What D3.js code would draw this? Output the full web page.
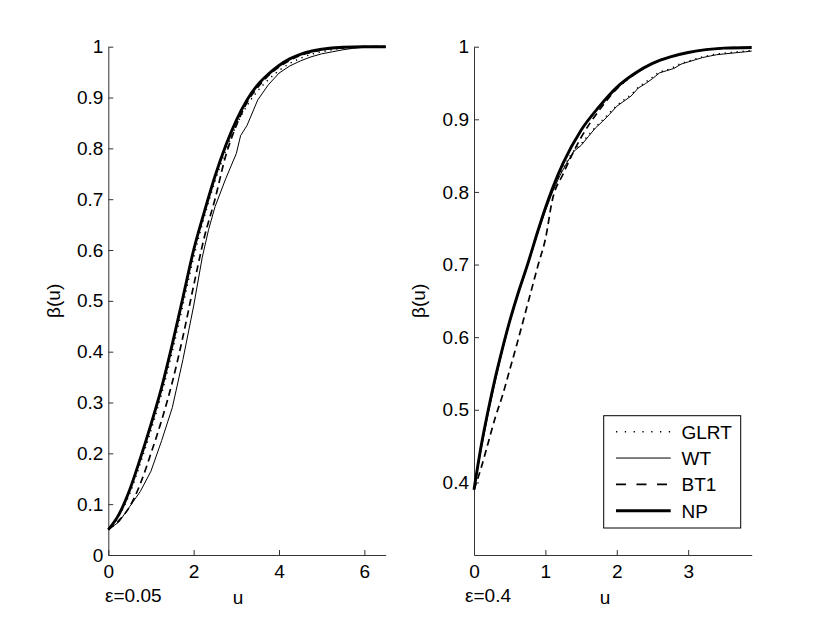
<!DOCTYPE html>
<html>
<head>
<meta charset="utf-8">
<script src="https://cdn.jsdelivr.net/npm/d3@7/dist/d3.min.js"></script>
<style>
  html, body { margin: 0; padding: 0; background: #fff; }
  svg { display: block; font-family: "Liberation Sans", Arial, Helvetica, sans-serif; }
</style>
</head>
<body>
<svg id="chart" width="830" height="625"></svg>
<script>
// ---------- DATA ----------
// Left panel (epsilon = 0.05)
const uL = [0,0.25,0.5,0.75,1,1.25,1.5,1.75,2,2.25,2.5,2.75,3,3.25,3.5,3.75,4,4.25,4.5,4.75,5,5.5,6,6.5];
const npL   = [0.05,0.08,0.128,0.19,0.257,0.33,0.415,0.507,0.60,0.675,0.745,0.805,0.855,0.895,0.925,0.946,0.963,0.976,0.985,0.991,0.995,0.999,1.0,1.0];
const glrtL = [0.05,0.077,0.12,0.18,0.245,0.317,0.40,0.492,0.585,0.665,0.735,0.795,0.845,0.884,0.913,0.935,0.953,0.967,0.977,0.985,0.990,0.997,0.999,1.0];
const bt1L  = [0.05,0.068,0.095,0.14,0.20,0.265,0.34,0.43,0.53,0.625,0.70,0.785,0.845,0.89,0.92,0.943,0.960,0.973,0.983,0.989,0.994,0.998,1.0,1.0];
const uLwt  = [0,0.25,0.5,0.75,1,1.25,1.5,1.75,2,2.2,2.35,2.5,2.75,3,3.1,3.25,3.5,3.75,4,4.25,4.5,4.75,5,5.25,5.5,5.75,6,6.5];
const wtL   = [0.05,0.065,0.095,0.125,0.165,0.225,0.29,0.385,0.49,0.585,0.64,0.685,0.74,0.79,0.825,0.845,0.895,0.925,0.948,0.962,0.972,0.98,0.986,0.99,0.994,0.997,0.999,1.0];

// Right panel (epsilon = 0.4)
const uR    = [0,0.1,0.2,0.3,0.4,0.5,0.6,0.75,0.9,1.0,1.1,1.25,1.5,1.75,2.0,2.25,2.5,2.75,3.0,3.25,3.5,3.89];
const npR   = [0.39,0.45,0.50,0.545,0.585,0.622,0.655,0.70,0.748,0.778,0.805,0.84,0.885,0.917,0.944,0.963,0.977,0.986,0.992,0.996,0.998,0.999];
const bt1R  = [0.39,0.42,0.455,0.49,0.52,0.555,0.59,0.645,0.70,0.735,0.79,0.825,0.875,0.912,0.942,0.962,0.977,0.986,0.992,0.996,0.998,0.999];
const uRwt  = [0,0.1,0.2,0.3,0.4,0.5,0.6,0.75,0.9,1.0,1.1,1.2,1.3,1.4,1.5,1.6,1.7,1.8,1.9,2.0,2.1,2.2,2.3,2.4,2.5,2.6,2.7,2.8,2.9,3.0,3.1,3.2,3.3,3.4,3.5,3.6,3.7,3.8,3.89];
const wtR   = [0.39,0.445,0.495,0.54,0.582,0.62,0.653,0.698,0.745,0.774,0.80,0.822,0.84,0.856,0.864,0.876,0.888,0.897,0.907,0.918,0.925,0.932,0.943,0.949,0.956,0.964,0.967,0.970,0.976,0.979,0.982,0.985,0.987,0.989,0.990,0.991,0.992,0.993,0.994];
const glrtR = [0.39,0.448,0.498,0.543,0.584,0.621,0.654,0.699,0.746,0.776,0.802,0.824,0.842,0.857,0.866,0.878,0.889,0.899,0.909,0.919,0.927,0.934,0.944,0.951,0.958,0.965,0.968,0.972,0.977,0.980,0.983,0.986,0.988,0.990,0.991,0.992,0.993,0.994,0.995];

// Axis ticks and labels
const xTicksL = [0,2,4,6];
const yTicksL = [0,0.1,0.2,0.3,0.4,0.5,0.6,0.7,0.8,0.9,1];
const xTicksR = [0,1,2,3];
const yTicksR = [0.4,0.5,0.6,0.7,0.8,0.9,1];
const xDomL = [0,6.5], yDomL = [0,1];
const xDomR = [0,3.89], yDomR = [0.3,1];
const panelNotes = ["ε=0.05","ε=0.4"];
const xLabel = "u", yLabel = "β(u)";
const legendNames = ["GLRT","WT","BT1","NP"];

// ---------- STYLES ----------
const styles = {
  GLRT: {w:1.4, dash:"1.3,4.7"},
  WT:   {w:1.0, dash:null},
  BT1:  {w:1.7, dash:"7,4.5"},
  NP:   {w:2.9, dash:null}
};

const svg = d3.select("#chart");
const fontSize = 19;
const axisColor = "#333";

function drawPanel(cfg) {
  const x = d3.scaleLinear().domain(cfg.xDom).range([cfg.x0, cfg.x1]);
  const y = d3.scaleLinear().domain(cfg.yDom).range([cfg.y1, cfg.y0]);
  const g = svg.append("g");

  const ax = g.append("g").attr("transform", `translate(0,${cfg.y1})`)
    .call(d3.axisBottom(x).tickValues(cfg.xTicks).tickFormat(d3.format("d"))
      .tickSizeInner(-5).tickSizeOuter(0).tickPadding(10));
  const ay = g.append("g").attr("transform", `translate(${cfg.x0},0)`)
    .call(d3.axisLeft(y).tickValues(cfg.yTicks).tickFormat(d => d === 0 || d === 1 ? String(d) : d3.format(".1f")(d))
      .tickSizeInner(-5).tickSizeOuter(0).tickPadding(5));
  [ax, ay].forEach(a => {
    a.select(".domain").attr("stroke", axisColor).attr("stroke-width", 1);
    a.selectAll(".tick line").attr("stroke", axisColor);
    a.selectAll("text").attr("fill", "#000").style("font-size", fontSize + "px")
      .style("font-family", '"Liberation Sans", Arial, sans-serif');
  });

  // curves
  const order = ["WT","GLRT","BT1","NP"];
  order.forEach(name => {
    const s = cfg.series[name];
    const pts = s.u.map((u, i) => [u, s.v[i]]);
    const line = d3.line().x(d => x(d[0])).y(d => y(d[1]))
      .curve(name === "WT" ? d3.curveLinear : d3.curveMonotoneX);
    g.append("path").attr("d", line(pts))
      .attr("fill", "none").attr("stroke", "#000")
      .attr("stroke-width", styles[name].w)
      .attr("stroke-dasharray", styles[name].dash)
      .attr("stroke-linejoin", "round");
  });

  // labels
  g.append("text").attr("x", cfg.uX).attr("y", 604)
    .attr("text-anchor", "middle").style("font-size", fontSize + "px").text(xLabel);
  g.append("text").attr("x", cfg.noteX).attr("y", 602)
    .style("font-size", fontSize + "px").text(cfg.note);
  g.append("text")
    .attr("transform", `translate(${cfg.yLabX},${(cfg.y0 + cfg.y1) / 2}) rotate(-90)`)
    .attr("text-anchor", "middle").style("font-size", fontSize + "px").text(yLabel);
  return {x, y, g};
}

const left = drawPanel({
  x0: 108.3, x1: 385.7, y0: 46.7, y1: 555,
  xDom: xDomL, yDom: yDomL, xTicks: xTicksL, yTicks: yTicksL,
  note: panelNotes[0], noteX: 105, uX: 238, yLabX: 60,
  series: {
    GLRT: {u: uL, v: glrtL}, WT: {u: uLwt, v: wtL},
    BT1: {u: uL, v: bt1L}, NP: {u: uL, v: npL}
  }
});

const right = drawPanel({
  x0: 474, x1: 751.7, y0: 46.7, y1: 555,
  xDom: xDomR, yDom: yDomR, xTicks: xTicksR, yTicks: yTicksR,
  note: panelNotes[1], noteX: 465, uX: 605, yLabX: 425,
  series: {
    GLRT: {u: uRwt, v: glrtR}, WT: {u: uRwt, v: wtR},
    BT1: {u: uR, v: bt1R}, NP: {u: uR, v: npR}
  }
});

// legend
const lg = svg.append("g");
lg.append("rect").attr("x", 603.7).attr("y", 415.7).attr("width", 137).attr("height", 112.3)
  .attr("fill", "#fff").attr("stroke", "#000").attr("stroke-width", 1);
const rowY = d3.scalePoint().domain(legendNames).range([431.7, 510.7]);
legendNames.forEach(name => {
  const yy = rowY(name);
  lg.append("line").attr("x1", 616).attr("x2", 670.7).attr("y1", yy).attr("y2", yy)
    .attr("stroke", "#000").attr("stroke-width", styles[name].w)
    .attr("stroke-dasharray", name === "GLRT" ? "1.3,7.5" : (name === "BT1" ? "10,10.5" : styles[name].dash));
  lg.append("text").attr("x", 681.5).attr("y", yy).attr("dy", "0.36em")
    .style("font-size", fontSize + "px").text(name);
});
</script>
</body>
</html>
